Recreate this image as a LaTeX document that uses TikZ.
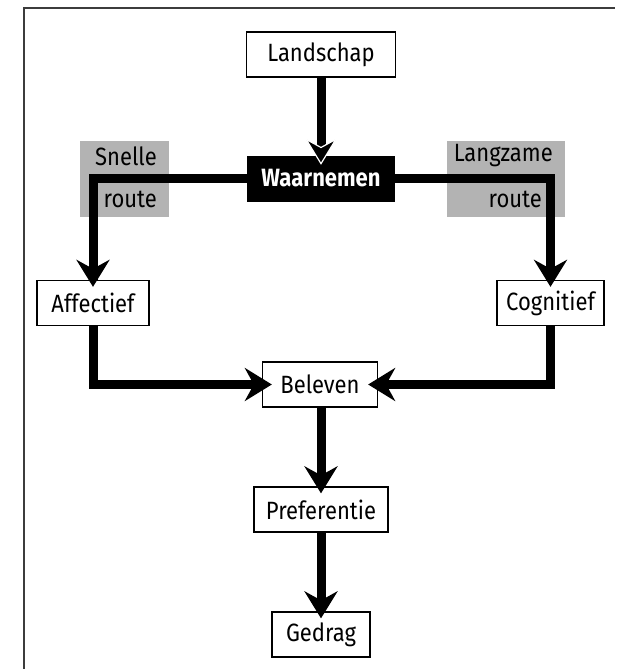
\documentclass[tikz,border=0pt]{standalone}
\usepackage{fontspec}
\setmainfont{Fira Sans}[FakeStretch=0.88]
\usetikzlibrary{arrows.meta}
\definecolor{routegray}{RGB}{179,179,179}
\definecolor{framegray}{RGB}{60,60,60}
\tikzset{
  box/.style={draw=black, line width=1.3pt, fill=white, inner sep=0pt,
    minimum height=45pt, font=\fontsize{25}{28}\selectfont},
  darkbox/.style={draw=black, fill=black, inner sep=0pt, minimum height=45pt,
    text=white, font=\fontsize{25}{28}\selectfont\bfseries},
  graybox/.style={fill=routegray, inner sep=0pt, minimum width=89pt, minimum height=76pt},
  graybox2/.style={fill=routegray, inner sep=0pt, minimum width=118pt, minimum height=76pt},
  lbl/.style={inner sep=0pt, anchor=east, font=\fontsize{25}{28}\selectfont},
  flow/.style={line width=9pt, line join=miter, line cap=butt},
  flowarrow/.style={flow, -{Stealth[length=27pt, width=33pt, inset=9pt]}, shorten >=-7pt},
}
\begin{document}
\begin{tikzpicture}[x=1pt, y=-1pt]
\fill[white] (0,0) rectangle (616,669);
\useasboundingbox (0,0) rectangle (616,669);
% frame (top and left edges)
\draw[framegray, line width=1.2pt] (24,669) -- (24,8) -- (615,8);

% gray route boxes
\node[graybox]  (gl) at (124.5,179) {};
\node[graybox2] (gr) at (506,179) {};

% nodes
\node[box, minimum width=149pt] (land) at (321,54.5) {Landschap};
\node[darkbox, minimum width=147pt] (waar) at (321,178.5) {Waarnemen};
\node[box, minimum width=112pt] (aff) at (93,303) {Affectief};
\node[box, minimum width=107pt] (cog) at (550.5,303) {Cognitief};
\node[box, minimum width=115pt] (bel) at (320,384.5) {Beleven};
\node[box, minimum width=134pt] (pref) at (321,509.5) {Preferentie};
\node[box, minimum width=98pt] (ged) at (321,634.5) {Gedrag};

% route labels
\node[lbl] (snelle) at (157,156) {Snelle};
\node[lbl] (route1) at (157,199) {route};
\node[lbl] (langz) at (553,156) {Langzame};
\node[lbl] (route2) at (542,199) {route};

% connectors
\draw[flow] (waar.west) -| (aff.north);
\draw[flow] (waar.east) -| (cog.north);
\draw[flowarrow] (waar.west -| aff) -- (aff.north);
\draw[flowarrow] (waar.east -| cog) -- (cog.north);
\draw[flow, -{Stealth[length=27pt, width=33pt, inset=9pt, color=white, fill=black, line width=1.2pt]}, shorten >=-9pt] (land.south) -- (waar.north);
\draw[flowarrow, shorten >=-10pt] (aff.south) |- (bel.west);
\draw[flowarrow, shorten >=-10pt] (cog.south) |- (bel.east);
\draw[flowarrow] (bel.south -| pref) -- (pref.north);
\draw[flowarrow] (pref.south) -- (ged.north);
\end{tikzpicture}
\end{document}
